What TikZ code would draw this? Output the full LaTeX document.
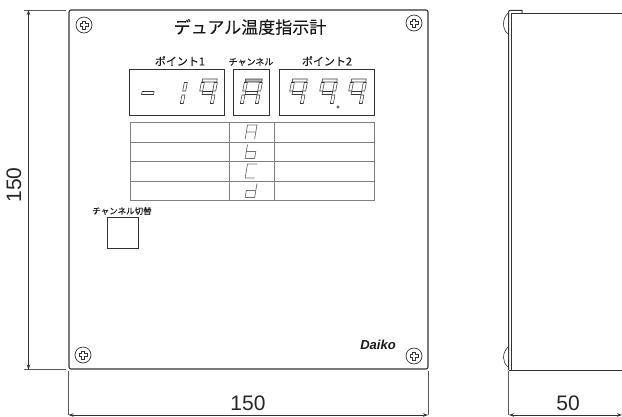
\documentclass[tikz,border=0pt]{standalone}
\usepackage{fontspec}
\setmainfont{Liberation Sans}
\newfontfamily\jp[FakeBold=0.12]{Noto Sans CJK JP}
\usetikzlibrary{arrows.meta}
\definecolor{ink}{gray}{0.2}
\definecolor{segc}{gray}{0.22}
\definecolor{tabc}{gray}{0.5}
\tikzset{
  panelbox/.style={draw=ink,line width=1.1pt,rounded corners=2pt,inner sep=0,outer sep=0},
  dispbox/.style={draw=ink,line width=0.9pt,inner sep=0,outer sep=0},
  tabline/.style={draw=tabc,line width=0.9pt},
  seg/.style={draw=segc,line width=0.55pt},
  smallseg/.style={draw=black!55,line width=0.75pt,line join=round},
  ext/.style={draw=black!65,line width=0.8pt},
  dim/.style={draw=black!80,line width=0.8pt,{Stealth[length=5pt,width=3.5pt]}-{Stealth[length=5pt,width=3.5pt]}},
  dimtext/.style={font=\fontsize{21}{21}\selectfont,text=black!85,inner sep=0},
  jplabel/.style={font=\jp,inner sep=0,text=black!90},
  screw/.style={circle,draw=ink,line width=0.7pt,minimum size=16pt,inner sep=0},
  side/.style={draw=ink,line width=1pt},
}
\newcommand{\segrect}[3]{\path[\segsty,shift={(\OX,\OY)},xslant=\SL,#3] #1 rectangle #2;}
\newcommand{\DefDigit}[3]{\def\W{#1}\def\H{#2}\def\T{#3}%
 \pgfmathsetmacro\Wa{\W-\T}\pgfmathsetmacro\Ha{\H/2}\pgfmathsetmacro\Hb{\H-\T}%
 \pgfmathsetmacro\Hc{\H/2-\T/2-0.5}\pgfmathsetmacro\Hd{\H/2+\T/2+0.5}\pgfmathsetmacro\He{\H/2-\T/2}\pgfmathsetmacro\Hf{\H/2+\T/2}%
 \pgfmathsetmacro\Wb{\W-0.7}\pgfmathsetmacro\Tb{\T+0.5}\pgfmathsetmacro\Hg{\H-\T-0.5}}
\newcommand{\sA}[1][]{\segrect{(0.7,0)}{(\Wb,\T)}{#1}}
\newcommand{\sB}{\segrect{(\Wa,\Tb)}{(\W,\Hc)}{}}
\newcommand{\sC}{\segrect{(\Wa,\Hd)}{(\W,\Hg)}{}}
\newcommand{\sE}{\segrect{(0,\Hd)}{(\T,\Hg)}{}}
\newcommand{\sF}{\segrect{(0,\Tb)}{(\T,\Hc)}{}}
\newcommand{\sG}{\segrect{(\T,\He)}{(\Wa,\Hf)}{}}
\newcommand{\Dig}[3]{\def\OX{#1}\def\OY{#2}#3}
\newcommand{\ScrewCross}[1]{\draw[ink,line width=0.6pt,shift={(#1)}]
  (-1.5,-4)--(1.5,-4)--(1.5,-1.5)--(4,-1.5)--(4,1.5)--(1.5,1.5)--(1.5,4)--(-1.5,4)--(-1.5,1.5)--(-4,1.5)--(-4,-1.5)--(-1.5,-1.5)--cycle;}
\begin{document}
\begin{tikzpicture}[x=1pt,y=-1pt]
\useasboundingbox (0,0) rectangle (622,416);
% panel
\node[panelbox,minimum width=359pt,minimum height=359pt] (panel) at (248.5,189.5) {};
% screws
\node[screw] (s1) at (84,25) {}; \ScrewCross{s1}
\node[screw] (s2) at (414,23) {}; \ScrewCross{s2}
\node[screw] (s3) at (83,355) {}; \ScrewCross{s3}
\node[screw] (s4) at (414,356) {}; \ScrewCross{s4}
% title
\node[jplabel,font=\jp\fontsize{17}{17}\selectfont] (title) at (250,27) {デュアル温度指示計};
\node[jplabel,font=\jp\fontsize{11}{11}\selectfont] (lp1) at (180,61) {ポイント1};
\node[jplabel,font=\jp\fontsize{9}{9}\selectfont] (lch) at (251,62) {チャンネル};
\node[jplabel,font=\jp\fontsize{11}{11}\selectfont] (lp2) at (327,61) {ポイント2};
% display boxes
\node[dispbox,minimum width=94.5pt,minimum height=46pt] (p1) at (177,92) {};
\node[dispbox,minimum width=36.5pt,minimum height=46pt] (ch) at (251.2,92) {};
\node[dispbox,minimum width=95pt,minimum height=46pt] (p2) at (326.5,92) {};
% digits
\def\SL{0.19}\def\segsty{seg}
\DefDigit{18}{28}{3}
\Dig{141.5}{79}{\sG}
\DefDigit{16}{28}{3}
\Dig{172}{79}{\sB\sC}
\Dig{202}{79}{\sA\sB\sC\sF\sG}
\DefDigit{18}{28}{3}
\Dig{245}{79}{\sA[fill=black!28]\sB\sC\sE\sF\sG}
\DefDigit{16}{28}{3}
\Dig{292}{79}{\sA\sB\sC\sF\sG}
\Dig{322}{79}{\sA\sB\sC\sF\sG}
\Dig{351}{79}{\sA\sB\sC\sF\sG}
\fill[white] (338,107) circle (1.4pt);
\draw[segc,line width=0.5pt] (338,107) circle (1.3pt);
% table
\coordinate (t1) at (130,122.5); \coordinate (t2) at (374,122.5);
\coordinate (t3) at (130,142); \coordinate (t4) at (374,142);
\coordinate (t5) at (130,161.5); \coordinate (t6) at (374,161.5);
\coordinate (t7) at (130,181); \coordinate (t8) at (374,181);
\coordinate (t9) at (130,200.5); \coordinate (t10) at (374,200.5);
\coordinate (v1) at (229.5,122.5); \coordinate (v2) at (229.5,200.5);
\coordinate (v3) at (274,122.5); \coordinate (v4) at (274,200.5);
\draw[tabline] (t1)--(t2)--(t10)--(t9)--cycle;
\draw[tabline] (t3)--(t4) (t5)--(t6) (t7)--(t8) (v1)--(v2) (v3)--(v4);
% table letters
\draw[smallseg,shift={(247.5,125)},xslant=0.17] (0,14)--(0,0)--(9.5,0)--(9.5,14) (0,7)--(9.5,7);
\draw[smallseg,shift={(247.5,144.5)},xslant=0.17] (0,0)--(0,14)--(9.5,14)--(9.5,7)--(0,7);
\draw[smallseg,shift={(247.5,164)},xslant=0.17] (9.5,0)--(0,0)--(0,14)--(9.5,14);
\draw[smallseg,shift={(247.5,183.5)},xslant=0.17] (9.5,0)--(9.5,14)--(0,14)--(0,7)--(9.5,7);
% button
\node[jplabel,font=\jp\fontsize{8.5}{8.5}\selectfont] (lbtn) at (122,211) {チャンネル切替};
\node[dispbox,minimum width=31pt,minimum height=30.5pt] (btn) at (122.5,233) {};
% brand
\node[inner sep=0,text=black!90,font=\fontsize{13}{13}\selectfont\bfseries\itshape] (brand) at (378,345) {Daiko};
% dimensions front
\coordinate (e1a) at (24,10); \coordinate (e1b) at (66,10);
\coordinate (e2a) at (24,369.5); \coordinate (e2b) at (66,369.5);
\coordinate (d1a) at (28.5,10); \coordinate (d1b) at (28.5,369.5);
\draw[ext] (e1a)--(e1b);
\draw[ext] (e2a)--(e2b);
\draw[dim] (d1a)--(d1b);
\node[dimtext,rotate=90] (dt1) at (14,185) {150};
\coordinate (e3a) at (68.5,371); \coordinate (e3b) at (68.5,415);
\coordinate (e4a) at (428,371); \coordinate (e4b) at (428,415);
\coordinate (d2a) at (68.5,415); \coordinate (d2b) at (428,415);
\draw[ext] (e3a)--(e3b);
\draw[ext] (e4a)--(e4b);
\draw[dim] (d2a)--(d2b);
\node[dimtext] (dt2) at (248,403) {150};
% side view
\draw[side] (508.5,370)--(508.5,12) to[out=90,in=180] (510.5,10.3)--(522,10.3)--(522,13);
\draw[side] (511,370)--(511,13)--(622,13);
\draw[side] (508.5,370)--(622,370);
\draw[ink,line width=0.6pt] (508,13) .. controls (502,19) and (502,29) .. (508,34);
\draw[ink,line width=0.6pt] (508,347) .. controls (502,353) and (502,362) .. (508,367);
\coordinate (e5a) at (508.5,371); \coordinate (e5b) at (508.5,415);
\coordinate (d3a) at (509,415); \coordinate (d3b) at (622,415);
\draw[ext] (e5a)--(e5b);
\draw[dim] (d3a)--(d3b);
\node[dimtext] (dt3) at (568,403) {50};
\end{tikzpicture}
\end{document}
